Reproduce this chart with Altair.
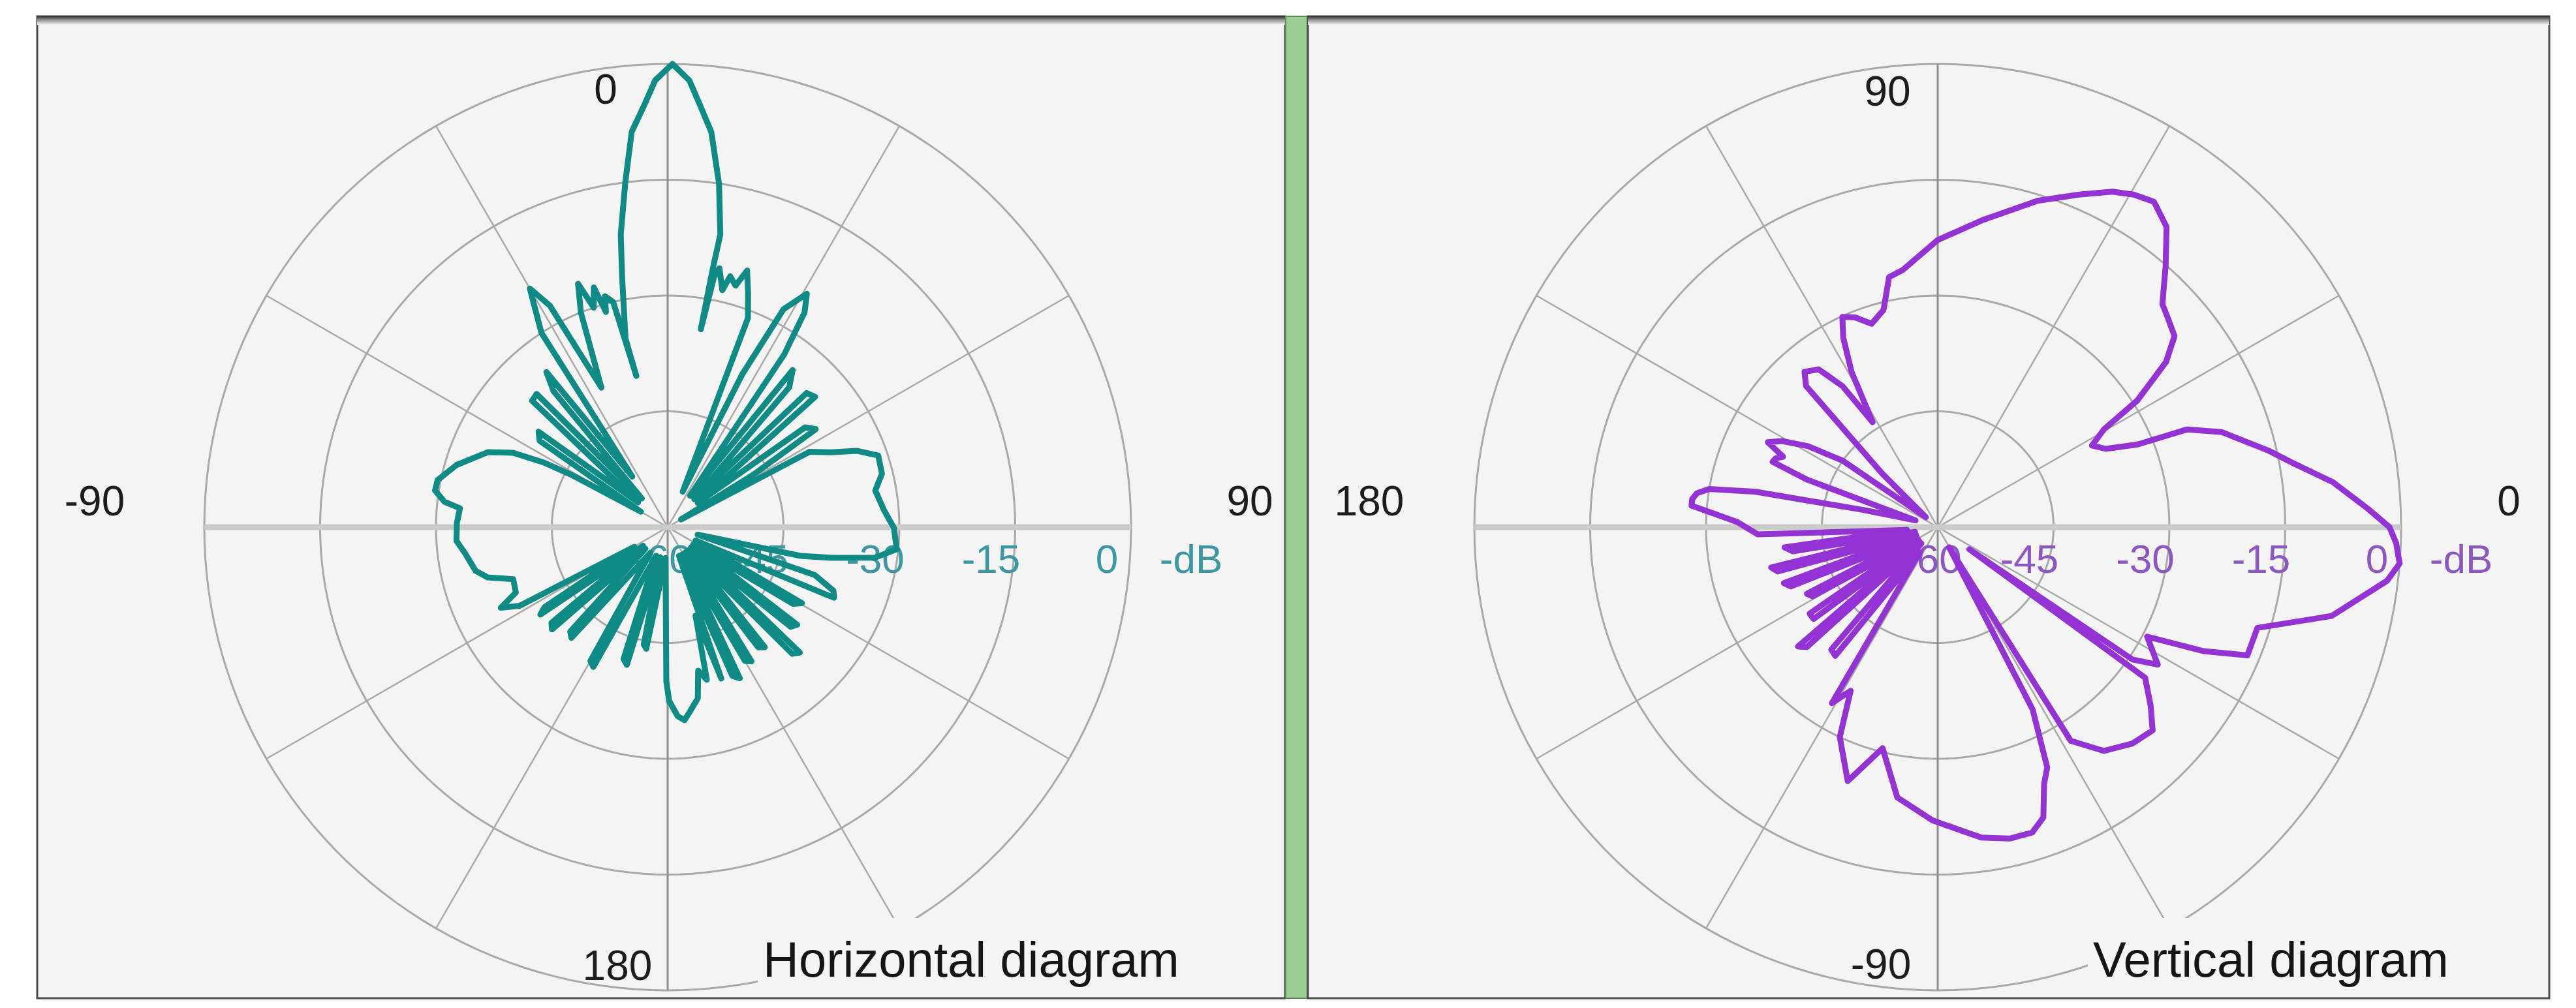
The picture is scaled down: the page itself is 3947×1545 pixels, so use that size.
import altair as alt
import pandas as pd

# ---------------- data ----------------
# Horizontal diagram: azimuth in degrees (clockwise from top), level in dB
h_angle = [-179.5, -176, -170, -168.5, -166, -163.5, -161.5, -158, -152, -150, -146, -139, -137, -134,
           -131.5, -129.5, -127, -124.5, -123, -120.5,
           -118, -115.8, -113.3, -108.6, -105.6, -102.8, -97.6, -93.7, -88.9, -84.8, -83.5, -81,
           -78.4, -73.6, -67.3, -64.3, -62.4, -61.4,
           -60, -56, -53.5, -50, -47, -44.5, -42, -40, -38, -35,
           -33, -30, -28, -25.4, -22, -20.2, -18.6, -17.1, -16, -15.2, -13.6, -11.7, -12.6, -10.3,
           -9.1, -7, -5.2, -3.2, -1.6,
           0.6, 2.8, 4.4, 6.3, 8.5, 10.2, 9.9, 9.5, 10.5, 11.3, 13, 14, 15.7, 17.2, 19, 21,
           23, 26, 28, 30.8, 32.5, 34, 35.5, 38.5, 41, 43.5, 46, 48.5, 51, 54, 56.5, 58.5, 60,
           62, 65.4, 68, 71.2, 76, 80, 85.5, 90.2, 95.5, 98.4, 100.6, 102.2,
           104, 108, 111, 113, 115.5, 119.5, 121.5, 124, 127, 129, 131, 133.5, 135.5, 138.5, 141,
           143, 145.5, 148, 150, 152, 154.5, 156.5, 158.5, 160.5, 162.5, 165.6, 168, 170, 173,
           175, 177, 179.5]
h_db = [-40, -56, -44, -44.5, -56, -41.4, -42, -56, -39.5, -40, -56, -41, -41.5, -56,
        -40, -40.5, -56, -40, -41, -55,
        -38.3, -36, -38.6, -38.9, -35.8, -34.5, -33.6, -32.6, -32.7, -33, -30.9, -29.5,
        -29.6, -31.5, -34.8, -37.8, -42, -46,
        -56, -40, -39.2, -55, -36, -35.8, -55, -37, -34.5, -52,
        -30, -24.3, -27.5, -40, -30, -26.4, -30, -27.5, -31, -29, -30, -40, -35, -27,
        -21.6, -15, -8.6, -5.3, -2.1,
        0, -2.1, -5.2, -8.5, -15, -21.5, -26, -34, -27, -25.8, -28.5, -26.5, -27.5, -25.2, -28, -31,
        -55, -38, -28, -24.8, -27, -33, -55, -34, -36, -55, -35, -34.5, -55, -38, -37, -47, -58,
        -39.2, -36.7, -33.6, -31.2, -31.4, -32.7, -31.9, -30.7, -30.2, -32.9, -38.4, -42.4,
        -56, -40, -37, -36.6, -56, -40, -41, -56, -39, -39.5, -56, -36.4, -37, -56, -40,
        -40.5, -56, -39.5, -40, -56, -38.3, -39, -56, -39.2, -48, -39.6, -41, -37.5, -36,
        -34.9, -35.5, -37.5]

# Vertical diagram: elevation in degrees (counter-clockwise from right), level in dB
v_angle = [0, 2.5, 6.5, 10, 13, 18.5, 21.4, 22.5, 25, 27.9, 30.5, 32.4, 35.9, 38.9, 42, 44.8,
           49, 52.7, 56.4, 59.5, 62.5, 67, 73, 81.7, 90, 97.8, 101, 104, 108, 111.5, 114.4,
           116.5, 119, 121.8, 124, 127, 130.6, 133, 136, 140, 145, 148, 151, 153.4, 155.5,
           157, 158.4, 160, 163, 167, 169, 170.5, 172, 173.5, 175, 176.8, 178.5,
           182.3, 185, 187.5, 189.5, 191.5, 193.6, 195.5, 197.5, 200, 202, 204, 207, 209, 211.5,
           214, 216.5, 218.5, 220.5, 222.5, 225, 229, 231.5, 234.5, 239, 242, 245, 250.5,
           256, 261.5, 269, 278, 283, 287.2, 290, 292.5, 294.5, 297.5, 299.5, 301.9, 306.6, 312,
           316.6, 320, 324, 325, 325.8, 328, 332.4, 335, 337.5, 342.5, 347.3, 353.2, 355.5, 358]
v_db = [-1.5, -4.3, -8.5, -13, -16, -21.2, -25.3, -32, -36, -37.4, -35, -29.4, -23.5, -20.6, -19.8, -19,
        -15, -11.1, -9.4, -10, -11, -13.2, -15.8, -19.8, -22.8, -26.4, -27, -31, -32.3, -30.8, -30.1,
        -32.6, -37, -44, -38, -34.4, -33.5, -35, -50, -58, -45, -40.2, -37, -35.4, -38,
        -37.2, -37, -42, -57, -50, -36, -30, -28.5, -28, -28, -31.4, -34,
        -36.7, -56, -40, -41, -57, -37.8, -38.5, -57, -38.8, -39.5, -57, -41, -41.5, -57,
        -40, -40, -57, -36.2, -37, -57, -39, -38.7, -56, -33.4, -36, -30, -25.1,
        -30.5, -24.6, -22, -19.4, -18.6, -18.6, -20, -24, -25.8, -33.4, -57, -27.4, -23.9, -22.3,
        -21.7, -24, -26.8, -55, -29.5, -26.4, -29.4, -22, -16.6, -16.6, -7.7, -1.4, 0, -0.6]

assert len(h_angle) == len(h_db), (len(h_angle), len(h_db))
assert len(v_angle) == len(v_db), (len(v_angle), len(v_db))

ring_levels = [-45, -30, -15, 0]
spoke_angles = [30, 60, 120, 150]
db_tick_values = [-45, -30, -15, 0]
db_tick_labels = ["-45", "-30", "-15", "0"]
db_centre_label = "-60"
db_unit_label = "-dB"
h_dir_angles = [0, 90, -90, 180]
h_dir_labels = ["0", "90", "-90", "180"]
v_dir_angles = [90, 0, 180, -90]
v_dir_labels = ["90", "0", "180", "-90"]
titles = ["Horizontal diagram", "Vertical diagram"]

# ---------------- layout / style ----------------
PAD_L, PAD_T, PAD_R = 47, 14, 30
LW, RW, VH, GAP = 1912, 1902, 1505, 35
PPU = 710.0 / 60.0          # pixels per dB of radius
CY = 783
CX_L, CX_R = 966, 965
BG = "#f4f4f4"
GRID = "#a9a9a9"
NUM_FONT = "Liberation Sans"
TITLE_FONT = "Liberation Sans"

H_OFFSETS = {"0": (-95, 42), "90": (182, -37), "-90": (-168, -37), "180": (-77, -35)}
V_OFFSETS = {"90": (-77, 45), "0": (165, -37), "180": (-161, -37), "-90": (-87, -37)}


def xy_expr(orient, r="datum.r", a="datum.ang"):
    rad = f"({a}) * PI / 180"
    if orient == "h":
        return f"{r} * sin({rad})", f"{r} * cos({rad})"
    return f"{r} * cos({rad})", f"{r} * sin({rad})"


def panel(orient, width, cx, angles, dbs, color, label_color, dir_angles, dir_labels,
          offsets, title, title_x, with_bar):
    xs = alt.Scale(domain=[-cx / PPU, (width - cx) / PPU], nice=False, zero=False)
    ys = alt.Scale(domain=[-(VH - CY) / PPU, CY / PPU], nice=False, zero=False)

    def X(f="x"):
        return alt.X(f"{f}:Q", scale=xs, axis=None)

    def Y(f="y"):
        return alt.Y(f"{f}:Q", scale=ys, axis=None)

    xe, ye = xy_expr(orient)
    dummy = alt.Data(values=[{"k": 0}])
    layers = []

    # rings
    ring_df = pd.DataFrame([{"level": lv, "ang": a} for lv in ring_levels for a in range(0, 361, 2)])
    layers.append(
        alt.Chart(ring_df)
        .transform_calculate(r="datum.level + 60")
        .transform_calculate(x=xe)
        .transform_calculate(y=ye)
        .mark_line(color=GRID, strokeWidth=3)
        .encode(x=X(), y=Y(), detail="level:N", order="ang:Q")
    )

    # spokes (full diameters)
    def spokes(ang_list, col, sw):
        df = pd.DataFrame({"ang": ang_list})
        xe60, ye60 = xy_expr(orient, r="60")
        return (
            alt.Chart(df)
            .transform_calculate(x=xe60)
            .transform_calculate(y=ye60)
            .transform_calculate(x2="-datum.x", y2="-datum.y")
            .mark_rule(color=col, strokeWidth=sw)
            .encode(x=X(), y=Y(), x2="x2:Q", y2="y2:Q")
        )

    layers.append(spokes(spoke_angles, GRID, 2.5))
    horiz_ang = 90 if orient == "h" else 0
    vert_ang = 0 if orient == "h" else 90
    layers.append(spokes([vert_ang], "#8e8e8e", 3))
    layers.append(spokes([horiz_ang], "#cbcbcb", 9))

    # dB scale labels
    dbl = pd.DataFrame({"v": db_tick_values, "lab": db_tick_labels})
    layers.append(
        alt.Chart(dbl)
        .transform_calculate(x="datum.v + 60", y="0")
        .mark_text(font=NUM_FONT, fontSize=62, color=label_color, dx=-37, dy=51,
                   align="center", baseline="middle")
        .encode(x=X(), y=Y(), text="lab:N")
    )
    for lab, val, ddx in [(db_centre_label, 0, -8), (db_unit_label, 60, 92)]:
        layers.append(
            alt.Chart(pd.DataFrame({"r": [val], "lab": [lab]}))
            .transform_calculate(x="datum.r", y="0")
            .mark_text(font=NUM_FONT, fontSize=62, color=label_color, dx=ddx, dy=51,
                       align="center", baseline="middle")
            .encode(x=X(), y=Y(), text="lab:N")
        )

    # radiation pattern
    pat = pd.DataFrame({"ang": angles, "db": dbs})
    pat["i"] = range(len(pat))
    first = pat.iloc[[0]].copy()
    first["i"] = len(pat)
    pat = pd.concat([pat, first], ignore_index=True)
    layers.append(
        alt.Chart(pat)
        .transform_calculate(r="max(datum.db + 60, 0)")
        .transform_calculate(x=xe)
        .transform_calculate(y=ye)
        .mark_line(color=color, strokeWidth=9, strokeJoin="round", strokeCap="round")
        .encode(x=X(), y=Y(), order="i:Q")
    )

    # direction labels
    for a, lab in zip(dir_angles, dir_labels):
        ddx, ddy = offsets[lab]
        layers.append(
            alt.Chart(pd.DataFrame({"ang": [a], "lab": [lab]}))
            .transform_calculate(r="60")
            .transform_calculate(x=xe)
            .transform_calculate(y=ye)
            .mark_text(font=NUM_FONT, fontSize=64, color="#1c1c1c", dx=ddx, dy=ddy,
                       align="center", baseline="middle")
            .encode(x=X(), y=Y(), text="lab:N")
        )

    # caption with opaque box
    layers.append(
        alt.Chart(dummy).mark_rect(fill=BG).encode(
            x=alt.value(title_x - 8), x2=alt.value(title_x + 650),
            y=alt.value(1382), y2=alt.value(VH - 2))
    )
    layers.append(
        alt.Chart(dummy).mark_text(text=title, font=TITLE_FONT, fontSize=76, color="#151515",
                                   align="left", baseline="alphabetic")
        .encode(x=alt.value(title_x), y=alt.value(1472))
    )

    # top shadow
    layers.append(
        alt.Chart(dummy).mark_rect(
            color=alt.Gradient(gradient="linear",
                               stops=[alt.GradientStop(color="#2e2e2e", offset=0),
                                      alt.GradientStop(color="#7a7a7a", offset=0.3),
                                      alt.GradientStop(color=BG, offset=1)],
                               x1=0, x2=0, y1=0, y2=1)
        ).encode(x=alt.value(0), x2=alt.value(width), y=alt.value(0), y2=alt.value(13))
    )
    if with_bar:
        layers.append(
            alt.Chart(dummy).mark_rect(fill="#9ccf94", stroke="#5c8c56", strokeWidth=2).encode(
                x=alt.value(width + 1), x2=alt.value(width + GAP - 1),
                y=alt.value(0), y2=alt.value(VH))
        )

    return alt.layer(*layers).properties(width=width, height=VH)


left = panel("h", LW, CX_L, h_angle, h_db, "#0f8a84", "#3c97a0", h_dir_angles, h_dir_labels,
             H_OFFSETS, titles[0], 1112, True)
right = panel("v", RW, CX_R, v_angle, v_db, "#9433d4", "#8a58c0", v_dir_angles, v_dir_labels,
              V_OFFSETS, titles[1], 1203, False)

chart = (
    alt.hconcat(left, right, spacing=GAP, bounds="flush")
    .properties(padding={"left": PAD_L, "top": PAD_T, "right": PAD_R, "bottom": 0},
                background="white")
    .configure_view(fill=BG, stroke="#4a4a4a", strokeWidth=3)
)

chart.save("out.html", embed_options={"renderer": "svg", "actions": False})
